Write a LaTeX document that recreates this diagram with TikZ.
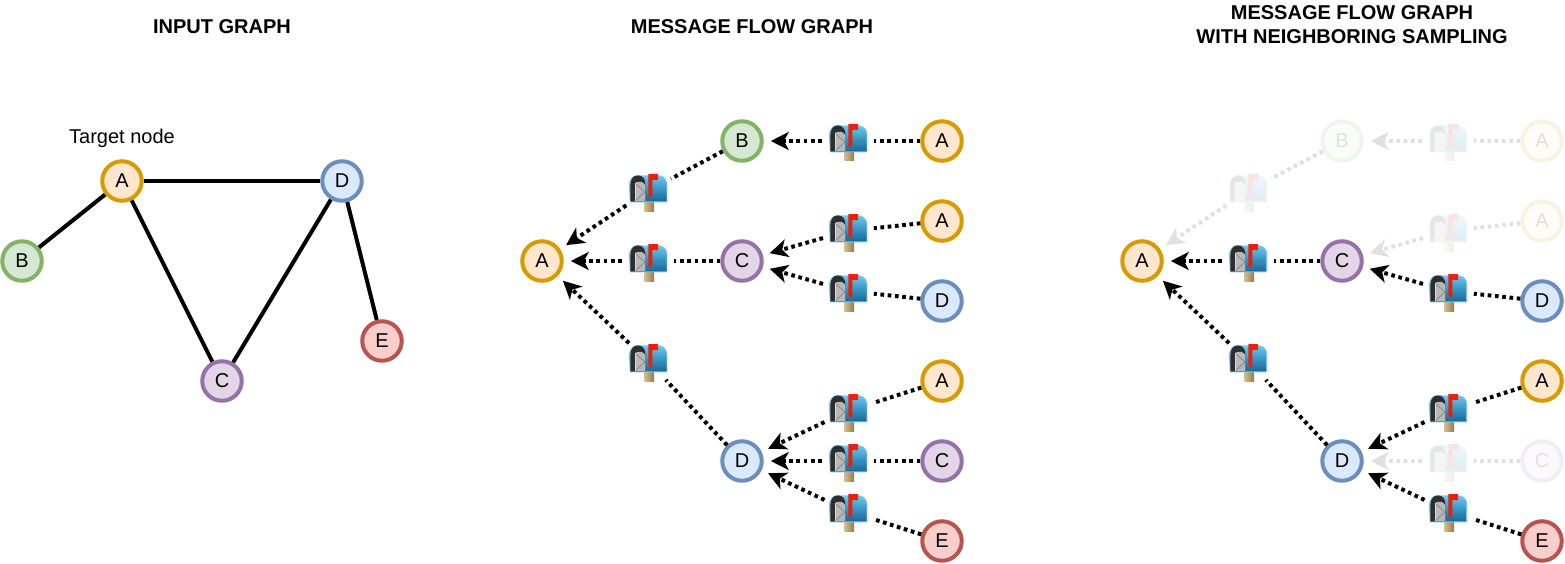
\documentclass[tikz,border=0pt]{standalone}
\usepackage{fontspec}
\setmainfont{Liberation Sans}
\usetikzlibrary{arrows.meta}
\definecolor{ofill}{HTML}{FFE6CC}\definecolor{odraw}{HTML}{D79B00}
\definecolor{gfill}{HTML}{D5E8D4}\definecolor{gdraw}{HTML}{82B366}
\definecolor{pfill}{HTML}{E1D5E7}\definecolor{pdraw}{HTML}{9673A6}
\definecolor{bfill}{HTML}{DAE8FC}\definecolor{bdraw}{HTML}{6C8EBF}
\definecolor{rfill}{HTML}{F8CECC}\definecolor{rdraw}{HTML}{B85450}
\definecolor{mtop}{HTML}{6CC6EC}\definecolor{mmid}{HTML}{3795C6}\definecolor{mbot}{HTML}{1C6796}
\definecolor{medge}{HTML}{7CCBEE}\definecolor{mpostl}{HTML}{D8BD8C}\definecolor{mpostr}{HTML}{8F7A55}
\definecolor{mflag}{HTML}{E8200C}
\tikzset{
  gnode/.style={circle,draw,line width=4pt,minimum size=39.5pt,inner sep=0pt,font=\fontsize{20}{22}\selectfont},
  orangen/.style={gnode,fill=ofill,draw=odraw},
  greenn/.style={gnode,fill=gfill,draw=gdraw},
  purplen/.style={gnode,fill=pfill,draw=pdraw},
  bluen/.style={gnode,fill=bfill,draw=bdraw},
  redn/.style={gnode,fill=rfill,draw=rdraw},
  solidedge/.style={line width=4pt,black},
  flowtail/.style={line width=4pt,black,dash pattern=on 3.7pt off 3.6pt},
  flowhead/.style={flowtail,-{Stealth[length=18pt,width=18pt,inset=5pt,sep=0pt]},shorten >=7pt},
  mailnode/.style={circle,minimum size=52pt,inner sep=0pt,outer sep=0pt},
  titlelabel/.style={font=\fontsize{20}{24}\selectfont\bfseries,align=center},
  plainlabel/.style={font=\fontsize{20}{22}\selectfont},
  mailicon/.pic={
    \shade[left color=mpostl,right color=mpostr] (-3.7,9) rectangle (6,20);
    \fill[medge] (-18,11.4) -- (-19.2,-6) .. controls (-19,-11) and (-16,-15.6) .. (-12,-15.6) -- (12,-15.6) .. controls (17,-15) and (19.4,-10) .. (19.4,-6) -- (19.4,11.4) -- cycle;
    \shade[top color=mtop,bottom color=mbot,middle color=mmid]
      (-12,-14.6) -- (12,-14.6) .. controls (16.5,-14) and (18.6,-10) .. (18.6,-6) -- (18.6,10.4) -- (-17,10.4) -- (-17,-6) .. controls (-17,-11) and (-15,-14.6) .. (-12,-14.6) -- cycle;
    \fill[black!82] (-17.6,10.4) -- (-17.6,-6) .. controls (-17.6,-12) and (-14.5,-15.6) .. (-10,-15.6) .. controls (-5.5,-15.6) and (-2.6,-12) .. (-2.6,-6) -- (-2.6,10.4) -- cycle;
    \fill[black!28] (-13,10.4) -- (-13,-8) .. controls (-9,-10.5) and (-5,-9.5) .. (-2.6,-6) -- (-2.6,10.4) -- cycle;
    \draw[black!48,line width=.7pt] (-12.6,-7.5) -- (-3,1) -- (-12.6,9.6);
    \draw[black!15,line width=.8pt] (-13,-8) -- (-13,10.4);
    \fill[mflag] (0.3,-17) -- (10.2,-17) -- (10.2,-11) -- (4.3,-11) -- (4.3,5) .. controls (3.6,7) and (1,7) .. (0.3,5) -- cycle;
  },
}
\newcommand{\mailat}[3]{\node[mailnode] (#1) at (#2,#3) {};\pic at (#1) {mailicon};}
\begin{document}
\begin{tikzpicture}[x=1pt,y=-1pt]
\useasboundingbox (0,0) rectangle (1565,564);
\fill[white] (0,0) rectangle (1565,564);
% titles
\node[titlelabel] (t1) at (222,27) {INPUT GRAPH};
\node[titlelabel] (t2) at (752,27) {MESSAGE FLOW GRAPH};
\node[titlelabel] (t3) at (1352,25) {MESSAGE FLOW GRAPH\\WITH NEIGHBORING SAMPLING};
% panel 1
\node[plainlabel] (target) at (122,138) {Target node};
\node[orangen] (a1) at (122,181) {A};
\node[greenn] (b1) at (22,261) {B};
\node[purplen] (c1) at (222,381) {C};
\node[bluen] (d1) at (342,181) {D};
\node[redn] (e1) at (382,341) {E};
\draw[solidedge] (a1)--(d1);
\draw[solidedge] (a1)--(b1);
\draw[solidedge] (a1)--(c1);
\draw[solidedge] (d1)--(c1);
\draw[solidedge] (d1)--(e1);
% panel 2
\node[orangen] (a2) at (542,261) {A};
\node[greenn] (b2) at (742,141) {B};
\node[purplen] (c2) at (742,261) {C};
\node[bluen] (d2) at (742,461) {D};
\node[orangen] (ab2) at (942,141) {A};
\node[orangen] (ac2) at (942,221) {A};
\node[bluen] (dc2) at (942,301) {D};
\node[orangen] (ad2) at (942,381) {A};
\node[purplen] (cd2) at (942,461) {C};
\node[redn] (ed2) at (942,541) {E};
\mailat{m2b}{648}{191}
\mailat{m2c}{648}{261}
\mailat{m2d}{648}{361}
\mailat{m2ab}{848}{141}
\mailat{m2ac}{848}{231}
\mailat{m2dc}{848}{291}
\mailat{m2ad}{848}{411}
\mailat{m2cd}{848}{461}
\mailat{m2ed}{848}{511}
\draw[flowtail] (b2)--(m2b);  \draw[flowhead] (m2b)--(a2);
\draw[flowtail] (c2)--(m2c);  \draw[flowhead] (m2c)--(a2);
\draw[flowtail] (d2)--(m2d);  \draw[flowhead] (m2d)--(a2);
\draw[flowtail] (ab2)--(m2ab);\draw[flowhead] (m2ab)--(b2);
\draw[flowtail] (ac2)--(m2ac);\draw[flowhead] (m2ac)--(c2);
\draw[flowtail] (dc2)--(m2dc);\draw[flowhead] (m2dc)--(c2);
\draw[flowtail] (ad2)--(m2ad);\draw[flowhead] (m2ad)--(d2);
\draw[flowtail] (cd2)--(m2cd);\draw[flowhead] (m2cd)--(d2);
\draw[flowtail] (ed2)--(m2ed);\draw[flowhead] (m2ed)--(d2);
% panel 3, kept paths
\node[orangen] (a3) at (1142,261) {A};
\node[purplen] (c3) at (1342,261) {C};
\node[bluen] (d3) at (1342,461) {D};
\node[bluen] (dc3) at (1542,301) {D};
\node[orangen] (ad3) at (1542,381) {A};
\node[redn] (ed3) at (1542,541) {E};
\mailat{m3c}{1248}{261}
\mailat{m3d}{1248}{361}
\mailat{m3dc}{1448}{291}
\mailat{m3ad}{1448}{411}
\mailat{m3ed}{1448}{511}
\draw[flowtail] (c3)--(m3c);  \draw[flowhead] (m3c)--(a3);
\draw[flowtail] (d3)--(m3d);  \draw[flowhead] (m3d)--(a3);
\draw[flowtail] (dc3)--(m3dc);\draw[flowhead] (m3dc)--(c3);
\draw[flowtail] (ad3)--(m3ad);\draw[flowhead] (m3ad)--(d3);
\draw[flowtail] (ed3)--(m3ed);\draw[flowhead] (m3ed)--(d3);
% panel 3, faded paths
\begin{scope}[transparency group,opacity=.12]
\node[greenn] (b3) at (1342,141) {B};
\node[orangen] (ab3) at (1542,141) {A};
\node[orangen] (ac3) at (1542,221) {A};
\node[purplen] (cd3) at (1542,461) {C};
\mailat{m3b}{1248}{191}
\mailat{m3ab}{1448}{141}
\mailat{m3ac}{1448}{231}
\mailat{m3cd}{1448}{461}
\draw[flowtail] (b3)--(m3b);  \draw[flowhead] (m3b)--(a3);
\draw[flowtail] (ab3)--(m3ab);\draw[flowhead] (m3ab)--(b3);
\draw[flowtail] (ac3)--(m3ac);\draw[flowhead] (m3ac)--(c3);
\draw[flowtail] (cd3)--(m3cd);\draw[flowhead] (m3cd)--(d3);
\end{scope}
\end{tikzpicture}
\end{document}
